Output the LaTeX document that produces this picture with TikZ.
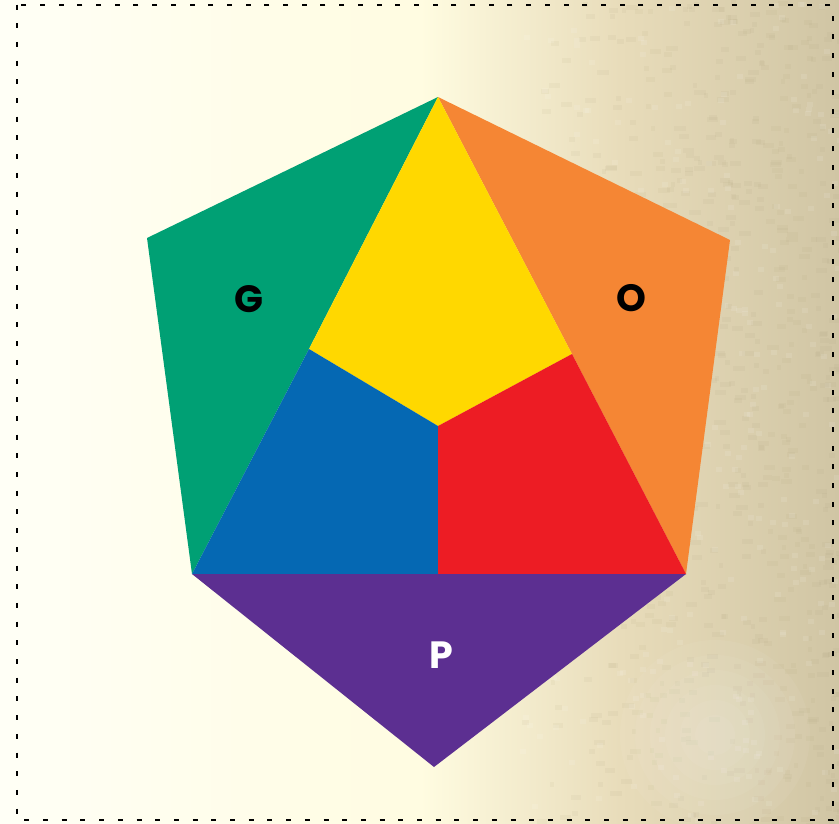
\documentclass[tikz,border=0pt]{standalone}
\usepackage{fontspec}
\setmainfont{Poppins}
\usepackage{tikz}
\usetikzlibrary{calc}
\definecolor{gcol}{RGB}{0,160,116}
\definecolor{ycol}{RGB}{255,216,0}
\definecolor{ocol}{RGB}{245,134,52}
\definecolor{bcol}{RGB}{5,104,179}
\definecolor{rcol}{RGB}{237,28,36}
\definecolor{pcol}{RGB}{92,47,145}
\definecolor{paper0}{RGB}{255,255,246}
\definecolor{paper1}{RGB}{255,252,225}
\definecolor{paper2}{RGB}{232,220,186}
\definecolor{paper3}{RGB}{208,197,164}
\definecolor{speck}{RGB}{160,148,110}

\begin{document}
\begin{tikzpicture}[x=1pt, y=-1pt,
  lab/.style={font=\fontsize{38}{38}\selectfont\bfseries, inner sep=0pt},
  frame/.style={line width=2pt, dash pattern=on 5pt off 13.7pt},
]
\useasboundingbox (0,0) rectangle (839,823);
% paper background
\shade[left color=paper0, right color=paper1] (0,0) rectangle (420,823);
\shade[left color=paper1, right color=paper2] (420,0) rectangle (620,823);
\shade[left color=paper2, right color=paper3] (620,0) rectangle (839,823);
\pgfmathsetseed{11}
\foreach \i in {1,...,700} {
  \pgfmathsetmacro{\px}{520+319*rnd^0.7}
  \pgfmathsetmacro{\py}{823*rnd}
  \pgfmathsetmacro{\pw}{4+8*rnd}
  \fill[speck, opacity=0.07] (\px,\py) rectangle ++(\pw,5);
}
\foreach \i in {1,...,300} {
  \pgfmathsetmacro{\px}{520+319*rnd}
  \pgfmathsetmacro{\py}{823*rnd}
  \fill[white, opacity=0.1] (\px,\py) rectangle ++(6,5);
}
\foreach \r in {95,80,...,20}
  \fill[white, opacity=0.05] (715,735) circle (\r);
% hexagon corners
\coordinate (top) at (438,97);
\coordinate (ul)  at (147,238);
\coordinate (ur)  at (730,240);
\coordinate (bl)  at (192,574);
\coordinate (br)  at (686,574);
\coordinate (bot) at (434,767);
\coordinate (lm)  at (309,349);
\coordinate (rm)  at (572,354);
\coordinate (mid) at (438,426);
\coordinate (bm)  at (438,574);
% faces
\fill[gcol] (top) -- (ul) -- (bl) -- (lm) -- cycle;
\fill[ocol] (top) -- (ur) -- (br) -- (rm) -- cycle;
\fill[ycol] (top) -- (lm) -- (mid) -- (rm) -- cycle;
\fill[bcol] (lm) -- (mid) -- (bm) -- (bl) -- cycle;
\fill[rcol] (mid) -- (rm) -- (br) -- (bm) -- cycle;
\fill[pcol] (bl) -- (br) -- (bot) -- cycle;
% labels
\node[lab, text=black] (g) at (249,299) {G};
\node[lab, text=black] (o) at (631,298) {O};
\node[lab, text=white] (p) at (441,655) {P};
% border
\draw[frame] (17,4.5) rectangle (833,820);
\end{tikzpicture}
\end{document}
